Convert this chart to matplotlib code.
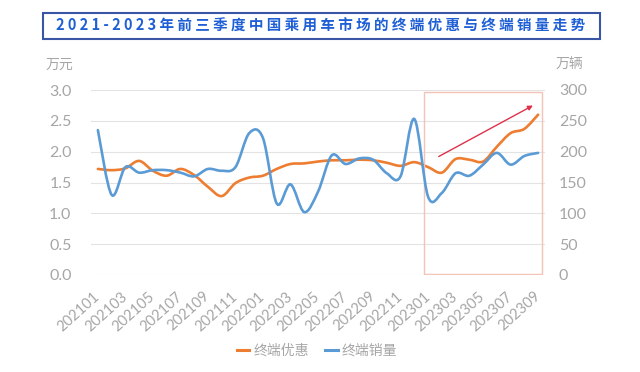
import matplotlib
matplotlib.use("Agg")
import matplotlib.pyplot as plt
from matplotlib.path import Path
from matplotlib.patches import PathPatch, Rectangle
from matplotlib.lines import Line2D

plt.rcParams['font.family'] = ['Noto Sans CJK SC', 'DejaVu Sans']

# months 2021-01 .. 2023-09
months = [f"{y}{m:02d}" for y in (2021, 2022, 2023) for m in range(1, 13)][:33]
tick_labels = months[::2]

# 终端优惠 (万元), left axis
discount = [1.72, 1.70, 1.73, 1.85, 1.69, 1.61, 1.72, 1.62, 1.43, 1.28, 1.49,
            1.58, 1.61, 1.72, 1.80, 1.81, 1.84, 1.86, 1.86, 1.87, 1.86, 1.82,
            1.77, 1.83, 1.75, 1.66, 1.88, 1.87, 1.84, 2.08, 2.30, 2.37, 2.60]
# 终端销量 (万辆), right axis
sales = [235, 130, 175, 166, 170, 170, 166, 160, 172, 169, 175, 230, 222,
         116, 147, 102, 135, 194, 180, 189, 187, 165, 160, 253, 127, 133,
         165, 161, 179, 198, 179, 193, 198]

orange = "#ED7D31"
blue = "#5B9BD5"
gray = "#A6A6A6"
num_font = ['Lato', 'DejaVu Sans']


def smooth_path(xs, ys):
    # bezier through the points, like excel's smoothed line
    verts = [(xs[0], ys[0])]
    codes = [Path.MOVETO]
    n = len(xs)
    for i in range(n - 1):
        x0, y0 = (xs[i - 1], ys[i - 1]) if i > 0 else (xs[i], ys[i])
        x3, y3 = (xs[i + 2], ys[i + 2]) if i + 2 < n else (xs[i + 1], ys[i + 1])
        c1 = (xs[i] + (xs[i + 1] - x0) / 6, ys[i] + (ys[i + 1] - y0) / 6)
        c2 = (xs[i + 1] - (x3 - xs[i]) / 6, ys[i + 1] - (y3 - ys[i]) / 6)
        verts += [c1, c2, (xs[i + 1], ys[i + 1])]
        codes += [Path.CURVE4] * 3
    return Path(verts, codes)


fig = plt.figure(figsize=(6.4, 3.72), dpi=100)
ax = fig.add_axes([91 / 640, 1 - 275 / 372, 454 / 640, 185 / 372])
ax2 = ax.twinx()

x = list(range(len(months)))
ax.add_patch(PathPatch(smooth_path(x, discount), fill=False, ec=orange, lw=1.9,
                       capstyle='round', zorder=3))
ax2.add_patch(PathPatch(smooth_path(x, sales), fill=False, ec=blue, lw=1.9,
                        capstyle='round', zorder=3))

ax.set_xlim(-0.5, len(months) - 0.5)
ax.set_ylim(0, 3)
ax2.set_ylim(0, 300)
ax.set_yticks([0, 0.5, 1, 1.5, 2, 2.5, 3])
ax.set_yticklabels([f"{v:.1f}" for v in ax.get_yticks()], family=num_font)
ax2.set_yticks([0, 50, 100, 150, 200, 250, 300])
ax2.set_yticklabels([str(v) for v in ax2.get_yticks().astype(int)],
                    family=num_font)
ax.grid(axis='y', color='#E3E3E3', lw=0.8)
ax.set_axisbelow(True)
for a in (ax, ax2):
    for s in a.spines.values():
        s.set_visible(False)

ax.set_xticks(x[::2])
ax.set_xticklabels(tick_labels, rotation=42, ha='right', va='center',
                   rotation_mode='anchor', color=gray, fontsize=10.5,
                   family=num_font)
ax.tick_params(axis='x', length=0, pad=14)
ax.tick_params(axis='y', length=0, pad=14, labelcolor=gray, labelsize=11.5)
ax2.tick_params(axis='y', length=0, pad=10, labelcolor=gray, labelsize=11.5)

# highlight box and trend arrow for 2023
ax.add_patch(Rectangle((23.7, 0.02), 8.56, 2.95, fill=False, ec='#F2C4B8',
                       lw=1.0, zorder=4))
ax.annotate("", xy=(31.8, 2.77), xytext=(24.6, 1.90),
            arrowprops=dict(arrowstyle='-|>', color='#E0304A', lw=1.0,
                            mutation_scale=7), zorder=5)

fig.text(59 / 640, 1 - 65 / 372, "万元", color=gray, fontsize=10,
         ha='center', va='center')
fig.text(569 / 640, 1 - 65 / 372, "万辆", color=gray, fontsize=10,
         ha='center', va='center')

# title box
fig.patches.append(Rectangle((43 / 640, 1 - 39 / 372), 557 / 640, 26 / 372,
                             transform=fig.transFigure, fill=False,
                             ec='#3A55A5', lw=1.5))
title = "2021-2023年前三季度中国乘用车市场的终端优惠与终端销量走势"
fig.text(321 / 640, 1 - 26 / 372, " ".join(title), color='#1F5FD6',
         fontsize=10.5, fontweight='bold', ha='center', va='center')

handles = [Line2D([], [], color=orange, lw=2.2),
           Line2D([], [], color=blue, lw=2.2)]
fig.legend(handles, ["终端优惠", "终端销量"], loc='center',
           bbox_to_anchor=(317 / 640, 1 - 351 / 372), ncol=2, frameon=False,
           handlelength=0.9, handletextpad=0.3, columnspacing=1.2,
           fontsize=10, labelcolor=gray)

fig.savefig("out.png", dpi=100)
